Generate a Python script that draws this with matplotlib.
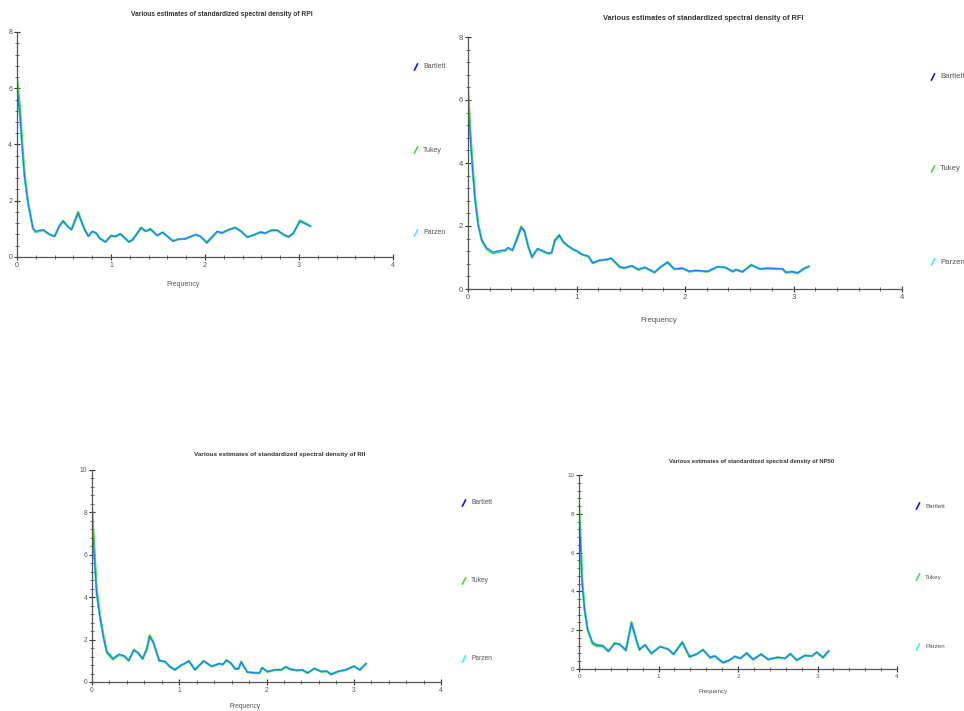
import matplotlib
matplotlib.use("Agg")
import matplotlib.pyplot as plt
from matplotlib.lines import Line2D
from matplotlib.ticker import MultipleLocator

plt.rcParams['font.family'] = ['Liberation Sans', 'DejaVu Sans']

W, H = 964, 711

# ---- RPI ----
rpi_freq = [0, 0.03, 0.057, 0.08, 0.117, 0.17, 0.2, 0.24, 0.28, 0.31, 0.35, 0.4, 0.45, 0.49, 0.54, 0.58,
            0.65, 0.72, 0.76, 0.8, 0.84, 0.88, 0.94, 1.0, 1.05, 1.1, 1.19, 1.23, 1.32, 1.37, 1.42, 1.49,
            1.55, 1.66, 1.72, 1.79, 1.9, 1.95, 2.02, 2.13, 2.18, 2.25, 2.32, 2.38, 2.45, 2.52, 2.59, 2.64,
            2.71, 2.77, 2.84, 2.89, 2.94, 3.01, 3.07, 3.12]
rpi_bartlett = [6.0, 5.1, 3.8, 2.86, 1.92, 1.03, 0.91, 0.95, 0.97, 0.89, 0.8, 0.73, 1.09, 1.27, 1.09, 0.97,
                1.56, 0.97, 0.73, 0.91, 0.85, 0.67, 0.53, 0.76, 0.73, 0.83, 0.53, 0.62, 1.03, 0.91, 0.99, 0.76,
                0.88, 0.56, 0.64, 0.64, 0.8, 0.73, 0.52, 0.91, 0.85, 0.97, 1.04, 0.93, 0.7, 0.79, 0.88, 0.85,
                0.95, 0.95, 0.79, 0.71, 0.85, 1.27, 1.18, 1.09]
rpi_tukey = [6.35, 5.4, 4.0, 2.95, 1.95, 1.0, 0.88, 0.92, 0.95, 0.88, 0.79, 0.74, 1.1, 1.29, 1.08, 0.98,
             1.6, 0.96, 0.75, 0.9, 0.86, 0.66, 0.54, 0.75, 0.74, 0.82, 0.54, 0.6, 1.05, 0.92, 1.0, 0.77,
             0.87, 0.57, 0.63, 0.65, 0.79, 0.74, 0.5, 0.9, 0.86, 0.96, 1.05, 0.92, 0.71, 0.78, 0.89, 0.84,
             0.96, 0.94, 0.78, 0.72, 0.84, 1.3, 1.2, 1.1]
rpi_parzen = [5.9, 5.0, 3.75, 2.83, 1.9, 1.02, 0.9, 0.94, 0.96, 0.88, 0.8, 0.74, 1.08, 1.25, 1.08, 0.97,
              1.52, 0.98, 0.74, 0.9, 0.84, 0.68, 0.55, 0.76, 0.73, 0.82, 0.55, 0.63, 1.01, 0.91, 0.98, 0.77,
              0.87, 0.58, 0.64, 0.65, 0.79, 0.73, 0.54, 0.9, 0.85, 0.96, 1.03, 0.92, 0.71, 0.79, 0.87, 0.85,
              0.94, 0.94, 0.79, 0.72, 0.85, 1.25, 1.17, 1.1]

# ---- RFI ----
rfi_freq = [0, 0.018, 0.04, 0.064, 0.095, 0.126, 0.17, 0.23, 0.31, 0.34, 0.37, 0.41, 0.45, 0.49, 0.52,
            0.555, 0.59, 0.64, 0.68, 0.74, 0.77, 0.8, 0.84, 0.88, 0.92, 0.97, 1.01, 1.05, 1.11, 1.15,
            1.21, 1.28, 1.32, 1.4, 1.44, 1.51, 1.57, 1.63, 1.72, 1.77, 1.84, 1.9, 1.98, 2.04, 2.1, 2.21,
            2.3, 2.37, 2.44, 2.47, 2.53, 2.61, 2.69, 2.76, 2.9, 2.93, 2.99, 3.04, 3.09, 3.14]
rfi_bartlett = [6.04, 4.98, 3.9, 2.85, 2.0, 1.57, 1.31, 1.17, 1.23, 1.23, 1.32, 1.23, 1.57, 1.95, 1.84,
                1.36, 1.02, 1.28, 1.23, 1.13, 1.15, 1.52, 1.7, 1.49, 1.38, 1.26, 1.2, 1.1, 1.04, 0.83,
                0.91, 0.94, 0.98, 0.7, 0.67, 0.74, 0.62, 0.69, 0.53, 0.69, 0.84, 0.64, 0.66, 0.56, 0.59, 0.56,
                0.71, 0.69, 0.56, 0.62, 0.55, 0.76, 0.64, 0.66, 0.64, 0.53, 0.55, 0.51, 0.64, 0.72]
rfi_tukey = [6.36, 5.2, 4.05, 2.95, 2.05, 1.55, 1.27, 1.13, 1.2, 1.21, 1.3, 1.22, 1.6, 1.98, 1.85,
             1.34, 1.0, 1.27, 1.21, 1.12, 1.14, 1.55, 1.72, 1.48, 1.36, 1.25, 1.18, 1.09, 1.03, 0.82,
             0.9, 0.93, 0.97, 0.69, 0.66, 0.73, 0.61, 0.68, 0.52, 0.68, 0.86, 0.63, 0.65, 0.55, 0.58, 0.55,
             0.7, 0.68, 0.55, 0.61, 0.54, 0.77, 0.63, 0.65, 0.63, 0.52, 0.54, 0.5, 0.63, 0.71]
rfi_parzen = [5.95, 4.9, 3.85, 2.85, 2.02, 1.58, 1.3, 1.16, 1.22, 1.22, 1.3, 1.23, 1.55, 1.92, 1.83,
              1.37, 1.03, 1.27, 1.23, 1.13, 1.15, 1.5, 1.68, 1.49, 1.38, 1.26, 1.2, 1.1, 1.04, 0.84,
              0.91, 0.94, 0.97, 0.71, 0.68, 0.74, 0.63, 0.69, 0.54, 0.69, 0.83, 0.64, 0.66, 0.57, 0.59, 0.57,
              0.7, 0.69, 0.57, 0.62, 0.56, 0.75, 0.64, 0.66, 0.64, 0.54, 0.56, 0.52, 0.64, 0.72]

# ---- RII ----
rii_freq = [0, 0.027, 0.053, 0.09, 0.13, 0.17, 0.21, 0.24, 0.31, 0.37, 0.42, 0.48, 0.53, 0.58, 0.63,
            0.66, 0.7, 0.77, 0.84, 0.89, 0.95, 1.02, 1.06, 1.11, 1.18, 1.28, 1.37, 1.46, 1.5, 1.54,
            1.59, 1.64, 1.68, 1.71, 1.78, 1.87, 1.92, 1.95, 2.01, 2.1, 2.17, 2.22, 2.27, 2.35, 2.41,
            2.47, 2.55, 2.63, 2.69, 2.74, 2.82, 2.91, 3.0, 3.07, 3.14]
rii_bartlett = [7.72, 5.9, 4.17, 3.07, 2.13, 1.42, 1.26, 1.1, 1.31, 1.23, 1.02, 1.5, 1.37, 1.1, 1.57,
                2.13, 1.89, 1.02, 0.96, 0.74, 0.58, 0.79, 0.87, 0.99, 0.58, 0.99, 0.74, 0.87, 0.83, 1.02,
                0.9, 0.63, 0.63, 0.94, 0.47, 0.43, 0.43, 0.66, 0.49, 0.58, 0.58, 0.71, 0.61, 0.55, 0.58,
                0.43, 0.63, 0.49, 0.52, 0.36, 0.5, 0.58, 0.74, 0.58, 0.87]
rii_tukey = [8.2, 6.3, 4.4, 3.2, 2.2, 1.38, 1.2, 1.06, 1.28, 1.21, 1.0, 1.52, 1.36, 1.08, 1.6,
             2.2, 1.92, 1.0, 0.95, 0.72, 0.57, 0.78, 0.86, 1.0, 0.57, 1.0, 0.73, 0.86, 0.82, 1.03,
             0.89, 0.62, 0.62, 0.96, 0.46, 0.42, 0.42, 0.68, 0.48, 0.57, 0.57, 0.72, 0.6, 0.54, 0.57,
             0.42, 0.64, 0.48, 0.51, 0.35, 0.49, 0.57, 0.75, 0.57, 0.86]
rii_parzen = [7.6, 5.8, 4.1, 3.05, 2.12, 1.45, 1.28, 1.12, 1.3, 1.23, 1.04, 1.47, 1.37, 1.12, 1.53,
              2.08, 1.86, 1.04, 0.96, 0.75, 0.6, 0.79, 0.87, 0.97, 0.6, 0.97, 0.75, 0.87, 0.84, 1.0,
              0.9, 0.64, 0.64, 0.92, 0.48, 0.45, 0.45, 0.64, 0.5, 0.58, 0.58, 0.7, 0.61, 0.56, 0.58,
              0.45, 0.62, 0.5, 0.52, 0.38, 0.51, 0.58, 0.73, 0.59, 0.86]

# ---- NP50 ----
np50_freq = [0, 0.017, 0.04, 0.07, 0.11, 0.17, 0.22, 0.3, 0.37, 0.45, 0.51, 0.59, 0.66, 0.72, 0.76,
             0.83, 0.91, 1.02, 1.12, 1.19, 1.3, 1.39, 1.48, 1.56, 1.65, 1.71, 1.81, 1.88, 1.96, 2.03,
             2.11, 2.19, 2.29, 2.38, 2.5, 2.59, 2.66, 2.74, 2.84, 2.93, 2.99, 3.07, 3.14]
np50_bartlett = [8.02, 6.65, 4.42, 3.04, 2.01, 1.36, 1.24, 1.2, 0.93, 1.32, 1.27, 0.98, 2.35, 1.5, 1.01,
                 1.24, 0.81, 1.15, 1.03, 0.77, 1.36, 0.64, 0.77, 0.98, 0.6, 0.67, 0.34, 0.43, 0.64, 0.55,
                 0.81, 0.5, 0.76, 0.5, 0.6, 0.55, 0.77, 0.46, 0.69, 0.67, 0.86, 0.6, 0.93]
np50_tukey = [8.45, 7.0, 4.6, 3.1, 2.0, 1.3, 1.18, 1.17, 0.9, 1.34, 1.28, 0.95, 2.42, 1.52, 0.98,
              1.25, 0.79, 1.16, 1.02, 0.75, 1.4, 0.62, 0.76, 1.0, 0.58, 0.66, 0.32, 0.42, 0.65, 0.54,
              0.83, 0.48, 0.77, 0.48, 0.6, 0.54, 0.79, 0.44, 0.7, 0.66, 0.87, 0.58, 0.92]
np50_parzen = [7.9, 6.5, 4.35, 3.0, 2.0, 1.38, 1.26, 1.21, 0.95, 1.3, 1.26, 1.0, 2.28, 1.48, 1.03,
               1.23, 0.83, 1.14, 1.04, 0.79, 1.33, 0.66, 0.78, 0.97, 0.62, 0.68, 0.36, 0.45, 0.63, 0.56,
               0.79, 0.52, 0.75, 0.52, 0.6, 0.56, 0.76, 0.48, 0.68, 0.68, 0.85, 0.62, 0.92]

series_names = ["Bartlett", "Tukey", "Parzen"]
series_colors = ["#1414f0", "#3ee03e", "#40eef0"]
series_widths = [0.9, 1.6, 1.3]
series_alpha = [0.55, 1.0, 1.0]
draw_order = [1, 2, 0]   # green, cyan, then blue on top


def fx(x):
    return x / W


def fy(y):
    return 1 - y / H


# draws one panel; rect, title, xlabel and legend positions are in pixels
def draw_panel(fig, rect, ymax, name, freq, values, title_xy, xlab_xy, leg_x, leg_ys, fs):
    x0, y0, x1, y1 = rect
    ax = fig.add_axes([fx(x0), fy(y1), (x1 - x0) / W, (y1 - y0) / H])
    for i in draw_order:
        ax.plot(freq, values[i], color=series_colors[i], lw=series_widths[i],
                alpha=series_alpha[i], solid_joinstyle='round')
    ax.set_xlim(0, 4)
    ax.set_ylim(0, ymax)
    ax.spines['top'].set_visible(False)
    ax.spines['right'].set_visible(False)
    for s in ['left', 'bottom']:
        ax.spines[s].set_color('#555555')
        ax.spines[s].set_linewidth(0.9)
    ax.xaxis.set_major_locator(MultipleLocator(1))
    ax.xaxis.set_minor_locator(MultipleLocator(0.2))
    ax.yaxis.set_major_locator(MultipleLocator(2))
    ax.yaxis.set_minor_locator(MultipleLocator(0.4))
    ax.tick_params(which='major', direction='inout', length=5, width=0.8, colors='#333333',
                   labelsize=fs, labelcolor='#555555', pad=1)
    ax.tick_params(which='minor', direction='inout', length=3.5, width=0.6, colors='#555555')
    ax.patch.set_alpha(0)

    fig.text(fx(title_xy[0]), fy(title_xy[1]), "Various estimates of standardized spectral density of " + name,
             ha='center', va='center', fontsize=fs * 0.95, fontweight='bold', color='#333333')
    fig.text(fx(xlab_xy[0]), fy(xlab_xy[1]), "Frequency", ha='center', va='center',
             fontsize=fs, color='#555555')
    for lbl, col, ly in zip(series_names, series_colors, leg_ys):
        fig.add_artist(Line2D([fx(leg_x - 1.5), fx(leg_x + 1.5)], [fy(ly + 3), fy(ly - 3)],
                              color=col, lw=1.2, transform=fig.transFigure))
        fig.text(fx(leg_x + 7), fy(ly), lbl, ha='left', va='center', fontsize=fs, color='#555555')
    return ax


fig = plt.figure(figsize=(W / 100, H / 100), dpi=100)
fig.patch.set_facecolor('white')

draw_panel(fig, (17, 32, 393, 257), 8, "RPI", rpi_freq,
           [rpi_bartlett, rpi_tukey, rpi_parzen], (222, 15), (183, 285), 416, [67, 150, 233], 5.0)
draw_panel(fig, (468, 37, 902, 289), 8, "RFI", rfi_freq,
           [rfi_bartlett, rfi_tukey, rfi_parzen], (703, 18), (659, 320), 933, [77, 169, 262], 5.6)
draw_panel(fig, (92, 470, 441, 682), 10, "RII", rii_freq,
           [rii_bartlett, rii_tukey, rii_parzen], (280, 454), (245, 707), 464, [503, 581, 659], 4.8)
draw_panel(fig, (579, 475, 897, 669), 10, "NP50", np50_freq,
           [np50_bartlett, np50_tukey, np50_parzen], (752, 461), (713, 692), 918, [506, 577, 647], 4.5)

fig.savefig("out.png", dpi=100)
